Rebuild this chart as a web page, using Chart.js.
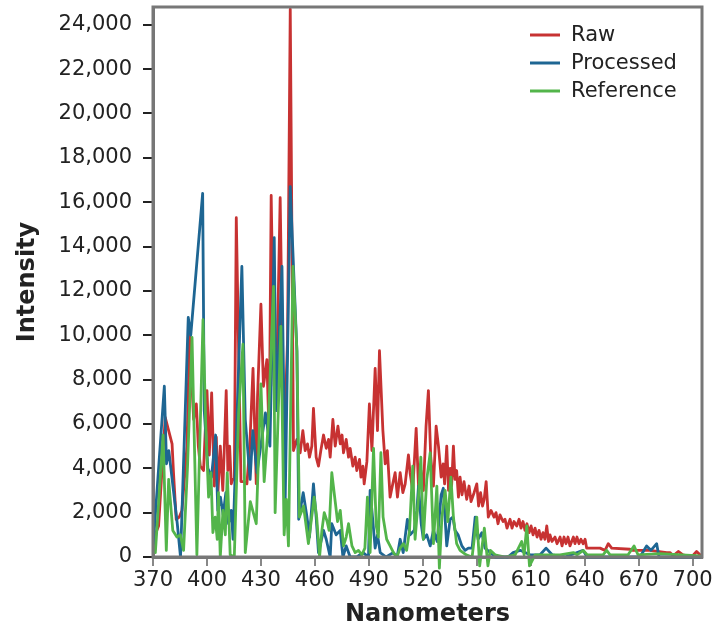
<!DOCTYPE html>
<html>
<head>
<meta charset="utf-8">
<script src="https://cdn.jsdelivr.net/npm/chart.js@4.4.0/dist/chart.umd.min.js"></script>
<style>
  html, body { margin: 0; padding: 0; background: #fff; }
</style>
</head>
<body>
<canvas id="spectrum" width="728" height="629"></canvas>
<script>
// axis ticks (the original chart labels its ticks like this, evenly spaced)
const tickValues = [370, 400, 430, 460, 490, 520, 550, 580, 610, 640, 670];
const tickLabels = ['370', '400', '430', '460', '490', '520', '550', '610', '640', '670', '700'];
const yTickValues = [0, 2000, 4000, 6000, 8000, 10000, 12000, 14000, 16000, 18000, 20000, 22000, 24000];

// Raw
const rawNm = [370.2, 373.1, 376.8, 378.7, 380.6, 381.4, 382.9, 384.6, 386.1, 388.9, 390.3, 392.6, 394.1, 395.2, 396.3, 398.1,
  400.0, 401.3, 402.6, 404.1, 405.2, 406.1, 407.4, 408.8, 409.6, 410.7, 411.6, 412.6, 413.5, 414.4, 415.2, 416.3,
  418.9, 420.7, 422.2, 423.8, 425.6, 427.4, 428.1, 430.0, 431.4, 433.3, 434.6, 435.7, 437.4, 438.9, 440.7, 442.2,
  443.5, 444.8, 446.3, 448.1, 450.0, 451.8, 453.3, 454.6, 455.9, 457.0, 458.3, 459.2, 460.7, 462.0, 463.3, 464.8,
  466.3, 467.6, 468.5, 470.0, 471.3, 472.8, 474.1, 475.1, 475.9, 477.4, 478.7, 479.6, 481.1, 482.4, 483.3, 484.8,
  485.6, 486.7, 487.4, 488.9, 490.3, 491.7, 493.5, 494.8, 495.9, 497.8, 499.1, 500.3, 501.8, 503.3, 504.6, 505.9,
  507.4, 508.9, 510.2, 512.0, 512.9, 514.4, 516.3, 517.6, 518.9, 520.3, 521.8, 523.1, 524.4, 525.9, 527.4, 528.7,
  530.2, 531.3, 532.1, 533.3, 534.3, 535.2, 536.0, 537.0, 537.9, 538.8, 539.8, 540.7, 541.8, 542.9, 544.4, 545.7,
  546.8, 548.5, 550.0, 551.0, 552.1, 553.2, 554.1, 555.2, 556.4, 557.9, 559.6, 560.7, 561.8, 562.9, 564.6, 565.7,
  566.8, 568.5, 569.6, 570.7, 572.2, 573.5, 574.6, 575.7, 576.8, 577.9, 579.1, 580.2, 581.3, 582.4, 583.5, 584.6,
  585.7, 586.8, 587.9, 588.9, 589.9, 590.7, 591.8, 593.5, 594.6, 596.3, 597.4, 598.5, 599.6, 600.7, 601.8, 603.7,
  604.6, 605.7, 606.8, 607.9, 609.1, 610.2, 611.1, 618.5, 621.3, 623.1, 625.0, 635.2, 636.8, 646.3, 655.6, 657.4,
  659.2, 662.0, 664.6, 669.4, 672.2, 674.1];
const rawIntensity = [800, 1400, 6300, 5700, 5100, 3800, 1700, 1800, 2100, 5000, 10000, 6200, 6900, 5000, 4100, 3900,
  7500, 4600, 7400, 3200, 5400, 2900, 5000, 3000, 4800, 7500, 3900, 5000, 3300, 3500, 3500, 15300,
  3400, 3400, 3300, 5000, 8500, 3300, 7200, 11400, 7700, 8900, 5300, 16300, 7700, 8600, 16200, 8000,
  6500, 9800, 24700, 4800, 5300, 4700, 5700, 4800, 5100, 4500, 5000, 6700, 4500, 4100, 4800, 5500,
  4900, 5300, 4500, 6200, 5000, 5900, 5100, 5500, 4700, 5300, 4500, 4900, 4100, 4500, 3900, 4400,
  3600, 4100, 3300, 4300, 6900, 4800, 8500, 5700, 9300, 5700, 4200, 4800, 2700, 3300, 3800, 2700,
  3800, 2900, 3300, 4600, 3800, 3000, 5800, 3200, 3900, 3000, 5900, 7500, 4500, 3200, 5900, 5000,
  3600, 4200, 3300, 5000, 3000, 4000, 3200, 5000, 3500, 3900, 2700, 3600, 2800, 3400, 2600, 3200,
  2500, 2900, 3300, 2300, 2900, 2300, 2600, 3400, 1800, 2100, 1800, 2000, 1500, 1900, 1600, 1700,
  1300, 1700, 1300, 1600, 1400, 1700, 1300, 1600, 1200, 1500, 1100, 1400, 1000, 1300, 900, 1200,
  800, 1100, 800, 1400, 700, 1000, 700, 900, 600, 900, 500, 900, 600, 900, 500, 900,
  600, 900, 600, 800, 600, 800, 400, 400, 300, 600, 400, 350, 300, 300, 200, 200,
  50, 250, 100, 0, 250, 100];

// Processed
const processedNm = [370.2, 376.3, 377.5, 378.8, 381.5, 383.5, 385.3, 389.6, 391.0, 397.6, 398.5, 400.5, 402.5, 404.8, 406.0, 407.5,
  409.0, 410.5, 412.0, 413.5, 414.5, 419.4, 421.3, 424.0, 425.5, 427.8, 432.5, 435.0, 437.4, 438.5, 441.7, 443.5,
  446.3, 450.0, 451.0, 453.5, 455.6, 457.0, 459.2, 460.7, 462.0, 464.8, 466.3, 468.5, 469.4, 471.8, 474.1, 475.6,
  477.4, 479.6, 483.3, 486.8, 489.8, 490.7, 491.8, 493.5, 494.8, 496.3, 499.6, 503.5, 505.7, 507.4, 509.1, 511.4,
  512.9, 515.2, 516.7, 517.6, 519.1, 520.3, 522.2, 524.1, 525.9, 528.0, 530.2, 531.4, 533.3, 535.2, 536.7, 537.9,
  539.6, 541.7, 543.5, 545.3, 547.4, 549.1, 550.7, 552.8, 554.6, 557.4, 560.2, 567.4, 570.2, 574.1, 579.6, 585.2,
  588.5, 591.9, 599.1, 609.1, 611.3, 640.7, 644.4, 646.8, 650.0, 651.3, 674.1];
const processedIntensity = [600, 7700, 4200, 4800, 2900, 1500, 0, 10800, 10000, 16400, 6600, 4000, 3600, 5500, 2100, 2700,
  1900, 2900, 1500, 2100, 800, 13100, 6200, 3500, 5700, 3800, 6500, 5000, 14400, 6600, 13100, 2600,
  16700, 9300, 1700, 2900, 1800, 900, 3300, 1800, 200, 1200, 800, 0, 1500, 1000, 1200, 0,
  500, 0, 0, 200, 0, 3000, 2000, 400, 1000, 200, 0, 200, 0, 800, 200, 1700,
  1000, 1200, 2100, 3200, 1500, 800, 1000, 500, 1200, 700, 2800, 3100, 500, 1700, 1800, 1200,
  1000, 500, 300, 400, 400, 1800, 800, 1100, 400, 200, 0, 0, 200, 300, 100, 100,
  400, 100, 0, 300, 0, 0, 500, 300, 600, 0, 0];

// Reference
const referenceNm = [371.3, 375.6, 377.4, 378.7, 381.0, 383.3, 385.2, 387.0, 389.2, 391.7, 394.4, 397.8, 399.3, 400.9, 402.2, 403.3,
  404.6, 405.7, 406.4, 407.4, 408.9, 410.2, 411.3, 412.9, 415.2, 417.6, 420.0, 421.3, 424.1, 427.4, 430.0, 431.8,
  434.1, 437.0, 437.9, 441.1, 442.9, 444.1, 445.3, 447.8, 450.0, 451.4, 453.7, 456.4, 459.6, 461.0, 462.6, 463.9,
  465.2, 466.8, 467.9, 469.4, 471.3, 472.6, 474.1, 475.9, 477.4, 478.7, 480.6, 482.4, 484.2, 486.1, 487.8, 489.2,
  490.7, 492.6, 494.1, 495.3, 496.7, 497.9, 499.9, 501.8, 503.7, 505.6, 507.4, 509.2, 511.0, 512.6, 514.4, 515.7,
  517.6, 518.9, 520.3, 522.2, 524.1, 525.9, 527.8, 529.2, 530.6, 532.4, 533.9, 535.6, 537.0, 538.8, 540.7, 544.1,
  547.4, 550.0, 551.6, 554.2, 556.2, 557.5, 560.2, 565.7, 571.3, 575.0, 576.3, 577.8, 579.3, 582.4, 596.3, 603.7,
  605.7, 609.2, 611.3, 620.2, 622.2, 624.1, 634.1, 637.4, 639.6, 651.8, 674.1];
const referenceIntensity = [200, 5500, 300, 3500, 1200, 900, 1000, 300, 4100, 9900, 100, 10700, 6000, 2700, 3800, 1100,
  1800, 800, 2900, 0, 2100, 1000, 3800, 100, 0, 6500, 9600, 200, 2500, 1500, 7800, 3400,
  6000, 12200, 2000, 10400, 1000, 2600, 500, 13100, 9300, 1800, 2300, 600, 2700, 1800, 0, 1200,
  2000, 1600, 1200, 3800, 2500, 1600, 2100, 500, 900, 1500, 500, 200, 300, 100, 400, 2700,
  200, 4900, 1400, 900, 4700, 1800, 800, 500, 200, 0, 400, 600, 300, 1200, 4100, 800,
  2700, 4500, 800, 3500, 4700, 600, 3200, -500, 1800, 3000, 1600, 3600, 1800, 600, 300, 100,
  0, 1800, -400, 1300, -400, 300, 100, 0, 100, 700, 100, 1400, -400, 100, 100, 200,
  100, 300, 100, 100, 300, 100, 100, 500, 100, 150, 50];

const toPoints = (xs, ys) => xs.map((x, i) => ({ x: x, y: ys[i] }));

// legend sits inside the plot, top right
const cornerLegend = {
  id: 'cornerLegend',
  afterDraw(chart) {
    const { ctx, chartArea } = chart;
    ctx.save();
    ctx.font = '21px "DejaVu Sans"';
    ctx.textBaseline = 'middle';
    chart.data.datasets.forEach((ds, i) => {
      const y = chartArea.top + 28 + i * 28;
      const x = chartArea.right - 172;
      ctx.strokeStyle = ds.borderColor;
      ctx.lineWidth = 3;
      ctx.beginPath();
      ctx.moveTo(x, y);
      ctx.lineTo(x + 30, y);
      ctx.stroke();
      ctx.fillStyle = '#222';
      ctx.fillText(ds.label, x + 41, y + 1);
    });
    ctx.restore();
  }
};

// grey frame round the plot
const plotFrame = {
  id: 'plotFrame',
  afterDatasetsDraw(chart) {
    const { ctx, chartArea } = chart;
    ctx.save();
    ctx.strokeStyle = '#777';
    ctx.lineWidth = 3;
    ctx.strokeRect(chartArea.left, chartArea.top, chartArea.right - chartArea.left, chartArea.bottom - chartArea.top);
    ctx.restore();
  }
};

Chart.defaults.font.family = '"DejaVu Sans", sans-serif';
Chart.defaults.color = '#222';

new Chart(document.getElementById('spectrum'), {
  type: 'line',
  data: {
    datasets: [
      { label: 'Raw', data: toPoints(rawNm, rawIntensity), borderColor: '#c73232', order: 3 },
      { label: 'Processed', data: toPoints(processedNm, processedIntensity), borderColor: '#1e6693', order: 2 },
      { label: 'Reference', data: toPoints(referenceNm, referenceIntensity), borderColor: '#53b54a', order: 1 }
    ]
  },
  options: {
    responsive: false,
    devicePixelRatio: 1,
    animation: false,
    layout: { padding: { left: 0, right: 26, top: 7, bottom: 0 } },
    datasets: {
      line: {
        borderWidth: 2.8,
        pointRadius: 0,
        tension: 0,
        fill: false,
        clip: false,
        borderJoinStyle: 'round',
        borderCapStyle: 'round'
      }
    },
    plugins: {
      legend: { display: false },
      tooltip: { enabled: false }
    },
    scales: {
      x: {
        type: 'linear',
        min: 370,
        max: 675.2,
        afterFit: (s) => { s.height = 72; s.paddingLeft = 0; s.paddingRight = 0; },
        afterBuildTicks: (s) => { s.ticks = tickValues.map(v => ({ value: v })); },
        ticks: {
          autoSkip: false,
          maxRotation: 0,
          padding: 2,
          font: { size: 21 },
          callback: (v) => tickLabels[tickValues.indexOf(v)]
        },
        grid: { drawOnChartArea: false, drawTicks: true, tickLength: 9, color: '#888', lineWidth: 2 },
        border: { display: true, color: '#777', width: 3 },
        title: { display: true, text: 'Nanometers', font: { size: 24, weight: 'bold' }, padding: { top: 0, bottom: 0 } }
      },
      y: {
        min: 0,
        max: 24800,
        afterFit: (s) => { s.width = 153; s.paddingTop = 0; s.paddingBottom = 0; },
        afterBuildTicks: (s) => { s.ticks = yTickValues.map(v => ({ value: v })); },
        ticks: {
          padding: 11,
          font: { size: 21 },
          callback: (v) => v.toLocaleString('en-US')
        },
        grid: { drawOnChartArea: false, drawTicks: true, tickLength: 10, color: '#222', lineWidth: 2 },
        border: { display: true, color: '#777', width: 3 },
        title: { display: true, text: 'Intensity', font: { size: 24, weight: 'bold' }, padding: { top: 13, bottom: 0 } }
      }
    }
  },
  plugins: [cornerLegend, plotFrame]
});
</script>
</body>
</html>
